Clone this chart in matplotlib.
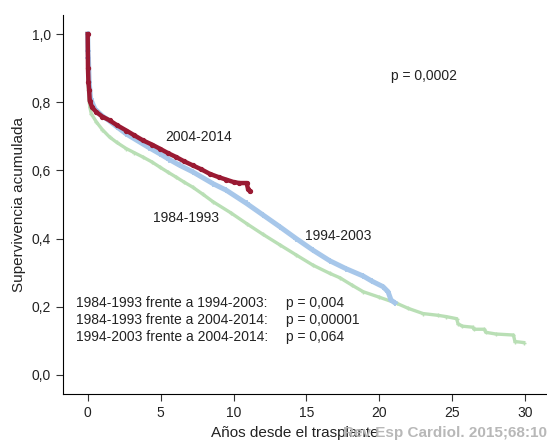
import matplotlib
matplotlib.use("Agg")
import matplotlib.pyplot as plt
from matplotlib.ticker import FuncFormatter

plt.rcParams["font.family"] = ["Liberation Sans", "DejaVu Sans"]

# Kaplan-Meier curves (years, cumulative survival)
t_8493 = [0, 0.03, 0.08, 0.15, 0.25, 0.6, 1.0, 1.5, 2.0, 2.65, 3.2, 3.8, 4.4, 4.94,
          5.5, 6.08, 6.6, 7.2, 7.9, 8.6, 9.8, 10.9, 12.0, 13.2, 14.3, 15.45, 16.6,
          17.3, 18.1, 18.9, 20.0, 21.2, 22.0, 23.0, 24.0, 24.6, 25.3, 25.4, 25.7,
          26.4, 26.5, 27.2, 27.3, 28.0, 29.2, 29.3, 29.9]
s_8493 = [1.0, 0.86, 0.81, 0.785, 0.766, 0.742, 0.72, 0.698, 0.682, 0.664, 0.652,
          0.639, 0.625, 0.61, 0.595, 0.58, 0.566, 0.551, 0.53, 0.508, 0.476, 0.444,
          0.413, 0.381, 0.352, 0.322, 0.298, 0.285, 0.264, 0.244, 0.228, 0.21, 0.195,
          0.18, 0.175, 0.171, 0.165, 0.15, 0.143, 0.14, 0.134, 0.134, 0.125, 0.12,
          0.117, 0.098, 0.095]

t_9403 = [0, 0.02, 0.05, 0.1, 0.2, 0.5, 1.0, 1.5, 2.0, 2.65, 3.5, 4.2, 4.94, 5.6, 6.31,
          7.2, 8.6, 9.5, 10.9, 12.0, 13.2, 14.3, 15.45, 16.6, 17.7, 18.9, 19.5,
          20.25, 20.6, 20.8, 21.05]
s_9403 = [1.0, 0.95, 0.93, 0.86, 0.81, 0.78, 0.76, 0.745, 0.728, 0.707, 0.685, 0.667,
          0.649, 0.632, 0.615, 0.596, 0.561, 0.542, 0.503, 0.47, 0.434, 0.40, 0.366,
          0.335, 0.312, 0.29, 0.275, 0.259, 0.244, 0.22, 0.212]

t_0414 = [0, 0.02, 0.05, 0.1, 0.14, 0.3, 0.6, 1.0, 1.5, 2.0, 2.65, 3.2, 3.8, 4.4, 4.94,
          5.5, 6.08, 6.6, 7.2, 7.8, 8.37, 9.0, 9.5, 10.0, 10.4, 10.9, 11.0, 11.1]
s_0414 = [1.0, 0.90, 0.86, 0.835, 0.805, 0.785, 0.771, 0.758, 0.747, 0.733, 0.717, 0.703,
          0.688, 0.676, 0.664, 0.651, 0.639, 0.627, 0.615, 0.603, 0.59, 0.58, 0.573,
          0.566, 0.563, 0.563, 0.545, 0.54]

comparisons = ["1984-1993 frente a 1994-2003:",
               "1984-1993 frente a 2004-2014:",
               "1994-2003 frente a 2004-2014:"]
comp_p = ["p = 0,004", "p = 0,00001", "p = 0,064"]

fig = plt.figure(figsize=(5.47, 4.42), dpi=100)
ax = fig.add_axes([0.115, 0.1086, 0.885, 0.8574])

ax.plot(t_8493, s_8493, color="#b9dfb5", lw=2.4, marker="+", ms=3, mew=1)
ax.plot(t_9403, s_9403, color="#a7c7ea", lw=3.6, marker="+", ms=4, mew=1.2)
ax.plot(t_0414, s_0414, color="#9a1a33", lw=3.2, marker="o", ms=2.8)

ax.set_xlim(-1.7, 31.5)
ax.set_ylim(-0.056, 1.056)
ax.set_xticks([0, 5, 10, 15, 20, 25, 30])
ax.set_yticks([0, 0.2, 0.4, 0.6, 0.8, 1.0])
ax.yaxis.set_major_formatter(FuncFormatter(lambda v, p: f"{v:.1f}".replace(".", ",")))
ax.spines["top"].set_visible(False)
ax.spines["right"].set_visible(False)
ax.tick_params(labelsize=10, length=5, color="#333333", labelcolor="#222222")
ax.set_ylabel("Supervivencia acumulada", fontsize=11, color="#222222")
ax.set_xlabel("Años desde el trasplante", fontsize=11, color="#222222")
ax.xaxis.set_label_coords(0.48, -0.085)

ax.text(20.8, 0.878, "p = 0,0002", fontsize=10, va="center", color="#222222")
ax.text(5.3, 0.697, "2004-2014", fontsize=10, va="center", color="#222222")
ax.text(4.5, 0.46, "1984-1993", fontsize=10, va="center", color="#222222")
ax.text(14.9, 0.407, "1994-2003", fontsize=10, va="center", color="#222222")
for i, (c, p) in enumerate(zip(comparisons, comp_p)):
    y = 0.211 - 0.05 * i
    ax.text(-0.82, y, c, fontsize=10, va="center", color="#222222")
    ax.text(13.6, y, p, fontsize=10, va="center", color="#222222")

# journal watermark, cut by the right edge as in the source
fig.text(0.627, 0.012, "Rev Esp Cardiol. 2015;68:1008", fontsize=11,
         fontweight="bold", color="#b8b8b8")

fig.savefig("out.png", dpi=100)
